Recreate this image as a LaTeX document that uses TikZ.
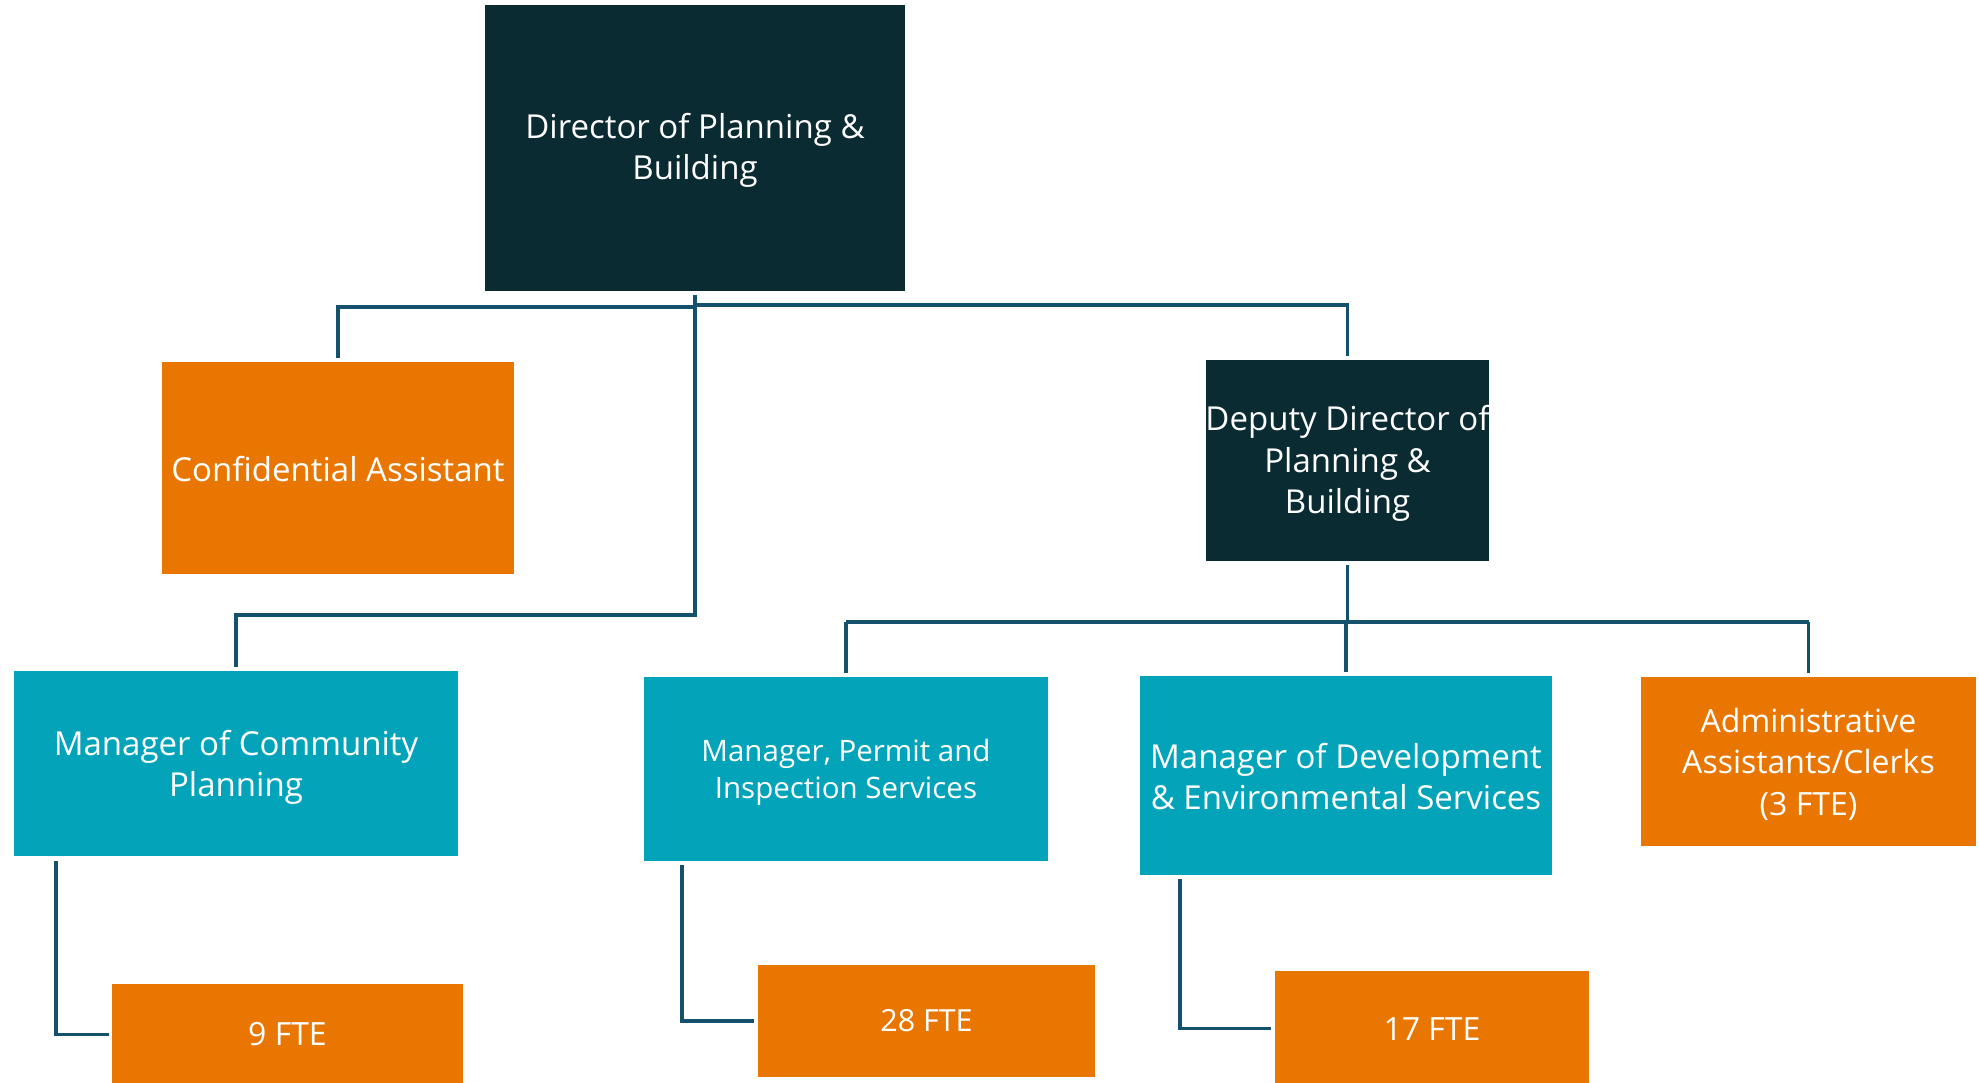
\documentclass[tikz,border=0pt]{standalone}
\usepackage{fontspec}
\setmainfont{Open Sans}
\usetikzlibrary{calc}
\definecolor{darkbox}{HTML}{0B2B33}
\definecolor{orangebox}{HTML}{E87600}
\definecolor{tealbox}{HTML}{03A3BA}
\definecolor{connline}{HTML}{14516D}
\tikzset{
  box/.style={rectangle, inner sep=0pt},
  darkb/.style={box, fill=darkbox},
  orangeb/.style={box, fill=orangebox},
  tealb/.style={box, fill=tealbox},
  txt/.style={inner sep=0pt, text=white, align=center,
    font=\fontsize{33}{41.5}\selectfont},
  conn/.style={draw=connline, line width=3.8pt, line join=miter, line cap=butt},
}
\begin{document}
\begin{tikzpicture}[x=1pt, y=-1pt]
\useasboundingbox (0,0) rectangle (1979,1082);
\node[darkb, minimum width=420pt, minimum height=286pt,
  label={[txt, yshift=-3pt]center:{Director of Planning \&\\Building}}] (dir) at (695,147.5) {};
\node[orangeb, minimum width=352pt, minimum height=212pt,
  label={[txt, yshift=-1pt]center:{Confidential Assistant}}] (conf) at (338,468) {};
\node[darkb, minimum width=283pt, minimum height=201pt,
  label={[txt, yshift=-3pt]center:{Deputy Director of\\Planning \&\\Building}}] (dep) at (1347.5,460.5) {};
\node[tealb, minimum width=444pt, minimum height=185pt,
  label={[txt, yshift=-4pt, font=\fontsize{33}{40.5}\selectfont]center:{Manager of Community\\Planning}}] (mcp) at (236,763.5) {};
\node[tealb, minimum width=404pt, minimum height=184pt,
  label={[txt, yshift=-3pt, font=\fontsize{29.5}{37}\selectfont]center:{Manager, Permit and\\Inspection Services}}] (mpi) at (846,769) {};
\node[tealb, minimum width=412pt, minimum height=199pt,
  label={[txt, yshift=-1pt]center:{Manager of Development\\\& Environmental Services}}] (mde) at (1346,775.5) {};
\node[orangeb, minimum width=335pt, minimum height=169pt,
  label={[txt, yshift=-2.5pt, font=\fontsize{32}{41.5}\selectfont]center:{Administrative\\Assistants/Clerks\\(3 FTE)}}] (adm) at (1808.5,761.5) {};
\node[orangeb, minimum width=351pt, minimum height=101pt,
  label={[txt, font=\fontsize{32}{40}\selectfont]center:{9 FTE}}] (f9) at (287.5,1034.5) {};
\node[orangeb, minimum width=337pt, minimum height=112pt,
  label={[txt, font=\fontsize{30.5}{40}\selectfont]center:{28 FTE}}] (f28) at (926.5,1021) {};
\node[orangeb, minimum width=314pt, minimum height=115pt,
  label={[txt, yshift=-1pt, font=\fontsize{32}{40}\selectfont]center:{17 FTE}}] (f17) at (1432,1028.5) {};
% bus coordinates
\coordinate (busconf) at (0,307);
\coordinate (busright) at (0,305);
\coordinate (busleft) at (0,615);
\coordinate (busdep) at (0,622);
% director connectors
\draw[conn] ([yshift=-4.5pt]dir.south) -- (dir.south |- busleft) -| ([yshift=4pt]mcp.north);
\draw[conn] (dir.south |- busconf) -| ([yshift=4pt]conf.north);
\draw[conn] (dir.south |- busright) -| ([yshift=4pt]dep.north);
% deputy connectors
\draw[conn] ([yshift=-4pt]dep.south) -- (dep.south |- busdep);
\draw[conn] (mpi.north |- busdep) -- (adm.north |- busdep);
\draw[conn] (mpi.north |- busdep) -- ([yshift=4pt]mpi.north);
\draw[conn] (mde.north |- busdep) -- ([yshift=4pt]mde.north);
\draw[conn] (adm.north |- busdep) -- ([yshift=4pt]adm.north);
% manager to FTE
\draw[conn] ([xshift=42pt,yshift=-5pt]mcp.south west) |- ([xshift=-3pt]f9.west);
\draw[conn] ([xshift=38pt,yshift=-4pt]mpi.south west) |- ([xshift=-4pt]f28.west);
\draw[conn] ([xshift=40pt,yshift=-4pt]mde.south west) |- ([xshift=-4pt]f17.west);
\end{tikzpicture}
\end{document}
